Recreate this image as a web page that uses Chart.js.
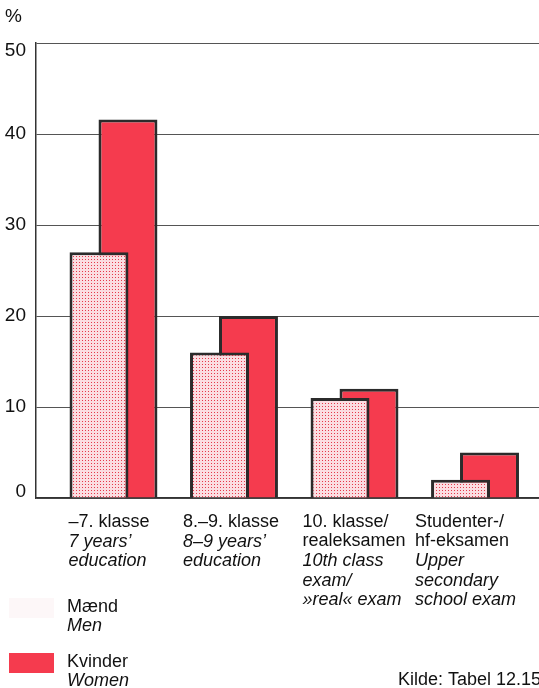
<!DOCTYPE html>
<html lang="da">
<head>
<meta charset="UTF-8">
<title>Uddannelse – mænd og kvinder</title>
<script src="https://cdn.jsdelivr.net/npm/chart.js"></script>
<style>
  body { margin: 0; background: #fff; }
  #ramme { width: 539px; height: 688px; }
</style>
</head>
<body>
<div id="ramme"><canvas id="graf" width="539" height="688"></canvas></div>
<script>
  // data
  const kategorier = [['–7. klasse'], ['8.–9. klasse'], ['10. klasse/', 'realeksamen'], ['Studenter-/', 'hf-eksamen']];
  const kategorierEn = [['7 years’', 'education'], ['8–9 years’', 'education'], ['10th class', 'exam/', '»real« exam'], ['Upper', 'secondary', 'school exam']];
  const maend = [27, 16, 11, 2];
  const kvinder = [41.6, 20, 12, 5];
  const serier = ['Mænd', 'Kvinder'];
  const serierEn = ['Men', 'Women'];
  const yMaks = 50;
  const yTrin = 10;

  // udseende
  const FONT = '"Liberation Sans", Arial, sans-serif';
  const rod = '#f53b4e';
  const kant = '#2b2b2b';
  const labelSkub = [-45, -51, -52, -60];

  const canvas = document.getElementById('graf');
  const ctx = canvas.getContext('2d');

  function prikMoenster() {
    const c = document.createElement('canvas');
    c.width = 3; c.height = 3;
    const g = c.getContext('2d');
    g.fillStyle = '#fbdde1';
    g.fillRect(0, 0, 3, 3);
    g.fillStyle = '#e5394b';
    g.fillRect(1, 1, 1, 1);
    return ctx.createPattern(c, 'repeat');
  }

  const tekster = {
    id: 'tekster',
    afterDraw(chart) {
      const c = chart.ctx;
      const x = chart.scales.x;
      const y = chart.scales.y;
      c.save();
      c.fillStyle = '#111';
      c.textBaseline = 'middle';

      // y-aksens tal holdes inden for plottet, som i originalen
      c.textAlign = 'right';
      c.font = '19px ' + FONT;
      y.ticks.forEach(t => {
        const py = Math.min(Math.max(y.getPixelForValue(t.value), y.top + 8), y.bottom - 6);
        c.fillText(String(t.value), y.right - 10, py);
      });

      c.textAlign = 'left';
      c.fillText('%', 5, 17);

      kategorier.forEach((linjer, i) => {
        const venstre = x.getPixelForValue(i) + labelSkub[i];
        let ly = y.bottom + 24;
        c.font = '18px ' + FONT;
        linjer.forEach(t => { c.fillText(t, venstre, ly); ly += 19.5; });
        c.font = 'italic 18px ' + FONT;
        kategorierEn[i].forEach(t => { c.fillText(t, venstre, ly); ly += 19.5; });
      });

      // forklaring
      const felter = ['#fdf7f8', rod];
      const top = [598, 653];
      serier.forEach((s, i) => {
        c.fillStyle = felter[i];
        c.fillRect(9, top[i], 45, 20);
        c.fillStyle = '#111';
        c.font = '18px ' + FONT;
        c.fillText(s, 67, top[i] + 9);
        c.font = 'italic 18px ' + FONT;
        c.fillText(serierEn[i], 67, top[i] + 28);
      });

      c.font = '18px ' + FONT;
      c.fillText('Kilde: Tabel 12.15', 398, 680);
      c.restore();
    }
  };

  new Chart(canvas, {
    type: 'bar',
    data: {
      datasets: [
        {
          label: serier[0],
          data: maend.map((v, i) => ({ x: i, y: v })),
          backgroundColor: prikMoenster(),
          borderColor: kant,
          borderWidth: 3
        },
        {
          label: serier[1],
          data: kvinder.map((v, i) => ({ x: i, y: v })),
          backgroundColor: rod,
          borderColor: kant,
          borderWidth: 3
        }
      ]
    },
    options: {
      responsive: false,
      animation: false,
      categoryPercentage: 0.481,
      barPercentage: 2.034,
      layout: { padding: { top: 43, right: 0, bottom: 182, left: 0 } },
      plugins: {
        legend: { display: false },
        tooltip: { enabled: false }
      },
      scales: {
        x: {
          type: 'linear',
          min: -0.643,
          max: 3.531,
          offset: false,
          grid: { display: false },
          ticks: { display: false },
          border: { display: true, color: '#333', width: 1.5 },
          afterBuildTicks: s => { s.ticks = s.ticks.filter(t => Number.isInteger(t.value)); }
        },
        y: {
          min: 0,
          max: yMaks,
          ticks: { stepSize: yTrin, display: false },
          grid: { color: '#555', lineWidth: 1, drawTicks: false },
          border: { display: true, color: '#333', width: 1.5 },
          afterFit: s => { s.width = 36; }
        }
      }
    },
    plugins: [tekster]
  });
</script>
</body>
</html>
